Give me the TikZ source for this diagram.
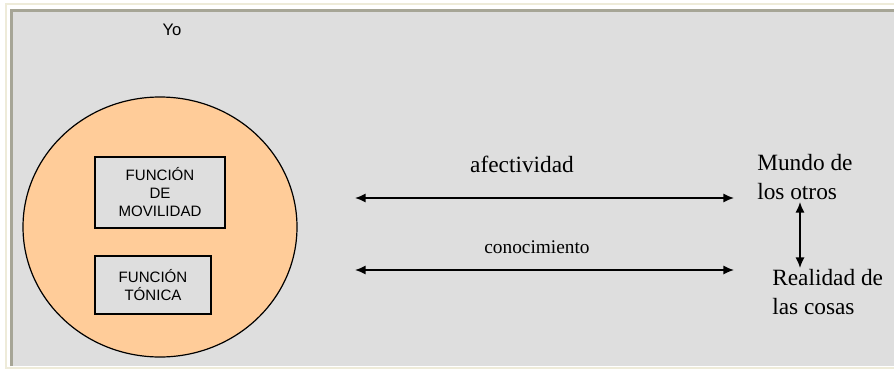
\documentclass[tikz,border=0pt]{standalone}
\usepackage{fontspec}
\setmainfont{Liberation Serif}
\setsansfont{Liberation Sans}
\usetikzlibrary{positioning}
\usetikzlibrary{arrows.meta}
\definecolor{framecream}{RGB}{238,235,217}
\definecolor{frameshade}{RGB}{166,165,150}
\definecolor{panelgray}{RGB}{222,222,222}
\definecolor{yopeach}{RGB}{255,204,153}

\tikzset{
    funcbox/.style={draw=black, line width=0.9pt, fill=panelgray, inner sep=0pt, align=center, font=\sffamily\fontsize{11.3}{13.5}\selectfont},
    sidetext/.style={inner sep=0pt, align=left, font=\fontsize{17.5}{22}\selectfont},
    link/.style={line width=1.2pt, {Latex[length=8pt,width=7pt]}-{Latex[length=8pt,width=7pt]}}
}

\begin{document}
\begin{tikzpicture}[x=0.75pt, y=-0.75pt]

        \useasboundingbox (0,0) rectangle (894,372);

        % Frame
        \fill[white] (0,0) rectangle (894,372);
        \draw[framecream, line width=1.6pt] (6,4) rectangle (900,368);
        \fill[panelgray] (12,10) rectangle (894,366);
        \draw[frameshade, line width=2.2pt] (11.5,366) -- (11.5,10.5) -- (894,10.5);

        % Yo
        \node[font=\sffamily\fontsize{12.5}{14}\selectfont] (yo) at (172,30) {Yo};
        \draw[line width=0.9pt, fill=yopeach] (160,227) ellipse [x radius=137, y radius=130];

        % Boxes inside
        \node[funcbox, minimum width=130*0.75pt, minimum height=71*0.75pt] (movilidad) at (160,192.5) {FUNCIÓN\\DE\\MOVILIDAD};
        \node[funcbox, minimum width=116*0.75pt, minimum height=58*0.75pt] (tonica) at (153,285) {FUNCIÓN\\TÓNICA};

        % Right side
        \node[sidetext, anchor=west] (mundo) at (757,177) {Mundo de\\los otros};
        \node[sidetext, anchor=west] (realidad) at (772,292) {Realidad de\\las cosas};

        \coordinate (afecL) at (355,198);
        \coordinate (afecR) at (734,198);
        \coordinate (conoL) at (355,270);
        \coordinate (conoR) at (734,270);
        \coordinate (mundoB) at (800,202);
        \coordinate (realT) at (800,268);

        \node[sidetext] (afectividad) at (522,164) {afectividad};
        \node[font=\rmfamily\fontsize{14.5}{16}\selectfont] (conocimiento) at (537,247) {conocimiento};

        \draw[link] (afecL) -- (afecR);
        \draw[link] (conoL) -- (conoR);
        \draw[link] (mundoB) -- (realT);

\end{tikzpicture}
\end{document}
